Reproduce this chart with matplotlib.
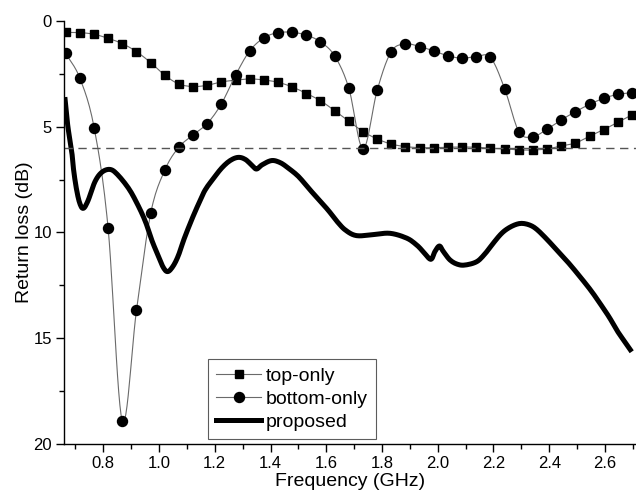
import numpy as np
import matplotlib
matplotlib.use('Agg')
import matplotlib.pyplot as plt
from matplotlib.lines import Line2D
from matplotlib.ticker import MultipleLocator

plt.rcParams['font.family'] = ['Liberation Sans', 'DejaVu Sans']

# marker frequencies (GHz), same grid for both single-layer curves
freq = [0.665, 0.716, 0.767, 0.817, 0.868, 0.919, 0.970, 1.021, 1.071, 1.122,
        1.173, 1.224, 1.275, 1.325, 1.376, 1.427, 1.478, 1.529, 1.579, 1.630,
        1.681, 1.732, 1.783, 1.833, 1.884, 1.935, 1.986, 2.037, 2.087, 2.138,
        2.189, 2.240, 2.291, 2.341, 2.392, 2.443, 2.494, 2.545, 2.595, 2.646,
        2.697]

top_only = [0.54, 0.55, 0.63, 0.82, 1.07, 1.45, 1.97, 2.57, 2.98, 3.10,
            3.04, 2.88, 2.80, 2.74, 2.79, 2.90, 3.12, 3.43, 3.77, 4.24,
            4.74, 5.23, 5.58, 5.82, 5.94, 5.99, 5.99, 5.97, 5.96, 5.97,
            6.02, 6.05, 6.10, 6.10, 6.05, 5.91, 5.77, 5.45, 5.14, 4.79,
            4.44]

bottom_only = [1.53, 2.71, 5.04, 9.77, 18.91, 13.68, 9.09, 7.04, 5.97, 5.39,
               4.85, 3.91, 2.55, 1.42, 0.80, 0.55, 0.54, 0.67, 0.99, 1.65,
               3.18, 6.05, 3.26, 1.45, 1.09, 1.21, 1.42, 1.65, 1.76, 1.69,
               1.72, 3.20, 5.23, 5.47, 5.12, 4.68, 4.29, 3.94, 3.66, 3.47,
               3.39]

prop_freq = [0.662, 0.672, 0.680, 0.687, 0.693, 0.703, 0.715, 0.728, 0.745, 0.770,
             0.795, 0.824, 0.850, 0.890, 0.920, 0.950, 0.975, 0.997, 1.015, 1.031,
             1.050, 1.069, 1.090, 1.117, 1.140, 1.165, 1.195, 1.225, 1.255, 1.284,
             1.310, 1.335, 1.350, 1.370, 1.404, 1.435, 1.464, 1.500, 1.536, 1.570,
             1.607, 1.640, 1.670, 1.709, 1.769, 1.829, 1.889, 1.925, 1.948, 1.975,
             1.990, 2.006, 2.020, 2.044, 2.070, 2.098, 2.140, 2.170, 2.199, 2.225,
             2.247, 2.275, 2.301, 2.330, 2.355, 2.390, 2.427, 2.470, 2.511, 2.550,
             2.582, 2.615, 2.642, 2.670, 2.696]
proposed = [3.6, 4.9, 5.6, 6.2, 7.0, 7.9, 8.6, 8.86, 8.5, 7.6,
            7.15, 7.02, 7.25, 7.9, 8.6, 9.45, 10.4, 11.1, 11.65, 11.85,
            11.6, 11.1, 10.3, 9.4, 8.7, 8.0, 7.45, 6.95, 6.6, 6.45,
            6.55, 6.85, 7.0, 6.8, 6.6, 6.7, 6.96, 7.35, 7.9, 8.4,
            8.95, 9.5, 9.9, 10.15, 10.1, 10.04, 10.27, 10.6, 10.91, 11.27,
            10.9, 10.64, 10.9, 11.3, 11.5, 11.54, 11.38, 11.0, 10.51, 10.1,
            9.85, 9.65, 9.57, 9.65, 9.85, 10.3, 10.83, 11.45, 12.1, 12.75,
            13.35, 14.0, 14.61, 15.15, 15.64]

ref_level = 6


def smooth(x, y, n=12):
    # Catmull-Rom curve through the points (only used to draw the connecting line)
    p = np.column_stack([x, y]).astype(float)
    p = np.vstack([2 * p[0] - p[1], p, 2 * p[-1] - p[-2]])
    t = np.linspace(0, 1, n, endpoint=False)[:, None]
    seg = []
    for i in range(1, len(p) - 2):
        p0, p1, p2, p3 = p[i - 1], p[i], p[i + 1], p[i + 2]
        seg.append(0.5 * (2 * p1 + (-p0 + p2) * t
                          + (2 * p0 - 5 * p1 + 4 * p2 - p3) * t ** 2
                          + (-p0 + 3 * p1 - 3 * p2 + p3) * t ** 3))
    seg.append(p[-2][None, :])
    seg = np.vstack(seg)
    return seg[:, 0], seg[:, 1]


thin = '#6a6a6a'

fig = plt.figure(figsize=(6.36, 4.92), dpi=100)
ax = fig.add_axes([0.1011, 0.0976, 0.8983, 0.8598])

sx, sy = smooth(freq, top_only)
ax.plot(sx, sy, color=thin, lw=0.8)
ax.plot(freq, top_only, ls='none', marker='s', ms=6.3, color='k')

sx, sy = smooth(freq, bottom_only)
ax.plot(sx, sy, color=thin, lw=0.8)
ax.plot(freq, bottom_only, ls='none', marker='o', ms=7.2, color='k')

sx, sy = smooth(prop_freq, proposed, 6)
ax.plot(sx, sy, color='k', lw=3.6, solid_capstyle='butt')

ax.axhline(ref_level, color='#555555', lw=1.0, ls=(0, (6, 4)))

ax.set_xlim(0.66, 2.71)
ax.set_ylim(20, 0)
ax.xaxis.set_major_locator(MultipleLocator(0.2))
ax.xaxis.set_minor_locator(MultipleLocator(0.1))
ax.yaxis.set_major_locator(MultipleLocator(5))
ax.yaxis.set_minor_locator(MultipleLocator(2.5))
ax.xaxis.set_major_formatter(matplotlib.ticker.FormatStrFormatter('%.1f'))
ax.yaxis.set_major_formatter(matplotlib.ticker.FormatStrFormatter('%d'))

for s in ['top', 'right']:
    ax.spines[s].set_visible(False)
for s in ['left', 'bottom']:
    ax.spines[s].set_linewidth(1.0)
ax.tick_params(which='major', direction='out', length=6, width=1.0, labelsize=12, pad=3)
ax.tick_params(which='minor', direction='out', length=3.5, width=1.0)

ax.set_xlabel('Frequency (GHz)', fontsize=14, labelpad=1)
ax.set_ylabel('Return loss (dB)', fontsize=14, labelpad=0)

handles = [
    Line2D([], [], color=thin, lw=0.8, marker='s', ms=6.3, mfc='k', mec='k'),
    Line2D([], [], color=thin, lw=0.8, marker='o', ms=7.2, mfc='k', mec='k'),
    Line2D([], [], color='k', lw=3.6),
]
leg = ax.legend(handles, ['top-only', 'bottom-only', 'proposed'],
                loc='lower left', bbox_to_anchor=(0.2515, 0.0118), borderaxespad=0,
                fontsize=14, frameon=True, fancybox=False, handlelength=2.3,
                handletextpad=0.26, labelspacing=0.27, borderpad=0.42)
leg.get_frame().set_edgecolor('#333333')
leg.get_frame().set_linewidth(0.8)

fig.savefig('out.png', dpi=100)
